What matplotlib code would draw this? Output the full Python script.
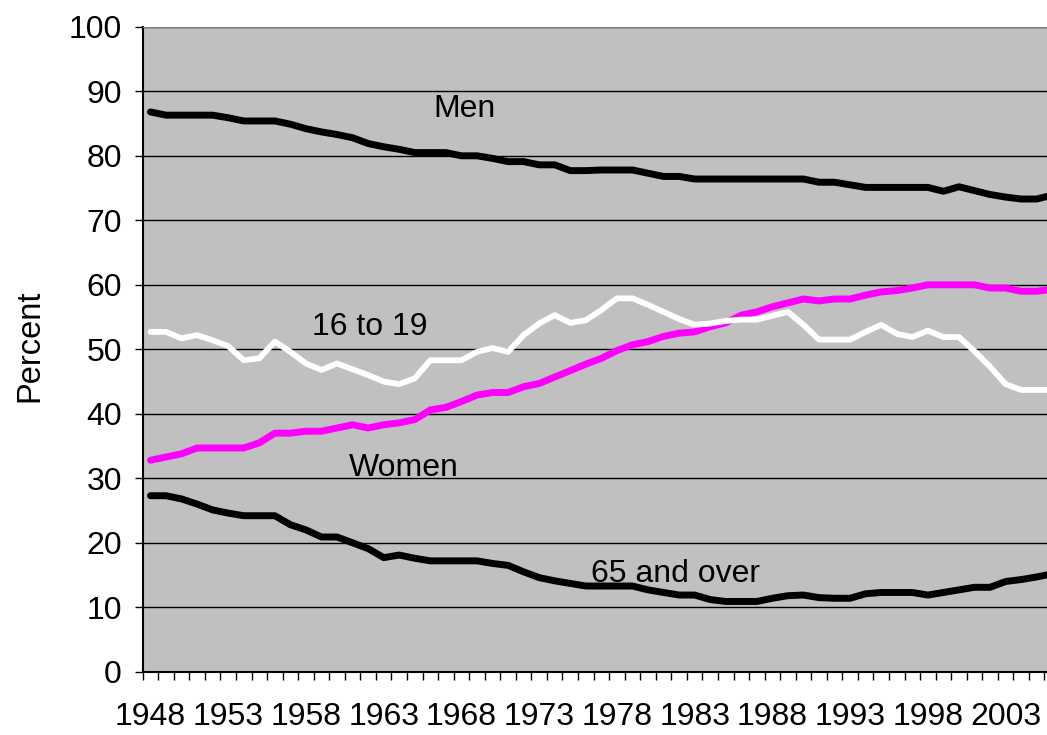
import numpy as np
import matplotlib
matplotlib.use("Agg")
from matplotlib import pyplot as plt
from matplotlib.ticker import FixedLocator, NullFormatter

plt.rcParams['font.family'] = ['Liberation Sans', 'DejaVu Sans']

# Labor force participation rates, 1948-2006 (percent)
years = list(range(1948, 2007))

men = [86.8, 86.3, 86.3, 86.3, 86.3, 85.9, 85.4, 85.4, 85.4, 84.9,
       84.2, 83.7, 83.3, 82.8, 81.9, 81.4, 81.0, 80.5, 80.5, 80.5,
       80.0, 80.0, 79.6, 79.1, 79.1, 78.6, 78.6, 77.7, 77.7, 77.8,
       77.8, 77.8, 77.3, 76.8, 76.8, 76.4, 76.4, 76.4, 76.4, 76.4,
       76.4, 76.4, 76.4, 75.9, 75.9, 75.5, 75.1, 75.1, 75.1, 75.1,
       75.1, 74.5, 75.2, 74.6, 74.0, 73.6, 73.3, 73.3, 73.9]

women = [32.8, 33.3, 33.8, 34.7, 34.7, 34.7, 34.7, 35.5, 37.0, 37.0,
         37.3, 37.3, 37.8, 38.3, 37.8, 38.3, 38.6, 39.1, 40.6, 41.0,
         41.9, 42.9, 43.3, 43.3, 44.2, 44.7, 45.7, 46.7, 47.7, 48.6,
         49.8, 50.7, 51.2, 52.0, 52.5, 52.7, 53.5, 54.1, 55.3, 55.8,
         56.6, 57.2, 57.8, 57.5, 57.8, 57.8, 58.4, 58.9, 59.1, 59.5,
         60.0, 60.0, 60.0, 60.0, 59.5, 59.5, 59.0, 59.0, 59.3]

teens = [52.7, 52.7, 51.7, 52.2, 51.4, 50.5, 48.3, 48.6, 51.2, 49.6,
         47.8, 46.8, 47.8, 46.9, 46.0, 45.0, 44.6, 45.5, 48.3, 48.3,
         48.3, 49.6, 50.2, 49.6, 52.2, 54.0, 55.3, 54.1, 54.5, 56.1,
         57.9, 57.9, 56.9, 55.8, 54.7, 53.8, 54.0, 54.4, 54.6, 54.6,
         55.2, 55.8, 53.8, 51.5, 51.5, 51.5, 52.7, 53.8, 52.4, 51.9,
         52.9, 51.9, 51.9, 49.7, 47.3, 44.6, 43.7, 43.7, 43.7]

over65 = [27.3, 27.3, 26.8, 26.0, 25.1, 24.6, 24.2, 24.2, 24.2, 22.8,
          22.0, 20.9, 20.9, 20.0, 19.1, 17.7, 18.1, 17.6, 17.2, 17.2,
          17.2, 17.2, 16.8, 16.5, 15.5, 14.6, 14.1, 13.7, 13.3, 13.3,
          13.3, 13.3, 12.7, 12.3, 11.9, 11.9, 11.2, 10.9, 10.9, 10.9,
          11.4, 11.8, 11.9, 11.5, 11.4, 11.4, 12.1, 12.3, 12.3, 12.3,
          11.9, 12.3, 12.7, 13.1, 13.1, 14.0, 14.3, 14.7, 15.2]

year_labels = [str(y) for y in range(1948, 2007, 5)]

fig = plt.figure(figsize=(10.47, 7.35), dpi=100)
# plot area runs past the right edge of the picture, as in the original
ax = fig.add_axes([142.7 / 1047, 63.2 / 735, (1060 - 142.7) / 1047, 645 / 735])
ax.set_facecolor('#C0C0C0')

x = np.arange(len(years))
style = dict(solid_capstyle='round', solid_joinstyle='round', zorder=3)
ax.plot(x, men, color='black', lw=5.0, **style)
ax.plot(x, women, color='#FF00FF', lw=5.0, **style)
ax.plot(x, teens, color='white', lw=4.2, **style)
ax.plot(x, over65, color='black', lw=5.0, **style)

ax.set_xlim(-0.5, len(years) - 0.5)
ax.set_ylim(0, 100)

ax.set_yticks(np.arange(0, 101, 10))
ax.yaxis.grid(True, color='black', lw=1.0)
ax.set_axisbelow(True)

label_pos = [years.index(int(s)) for s in year_labels]
ax.set_xticks(label_pos)
ax.set_xticklabels(year_labels)
ax.xaxis.set_minor_locator(FixedLocator(np.arange(-0.5, len(years), 1.0)))
ax.xaxis.set_minor_formatter(NullFormatter())
ax.tick_params(axis='x', which='major', length=0, pad=22, labelsize=23)
ax.tick_params(axis='x', which='minor', length=6, width=1, direction='out', color='black')
ax.tick_params(axis='y', length=6, width=1, direction='out', pad=9, labelsize=23)

for s in ['top', 'right']:
    ax.spines[s].set_color('#808080')
for s in ['left', 'bottom']:
    ax.spines[s].set_color('black')
    ax.spines[s].set_linewidth(1.5)

ax.set_ylabel('Percent', fontsize=23.5)
ax.yaxis.set_label_coords(-0.106, 0.505)

ax.text(20.2, 86.0, 'Men', fontsize=23, ha='center', va='baseline')
ax.text(14.1, 52.2, '16 to 19', fontsize=23, ha='center', va='baseline')
ax.text(16.3, 30.4, 'Women', fontsize=23, ha='center', va='baseline')
ax.text(33.8, 14.0, '65 and over', fontsize=23, ha='center', va='baseline')

fig.savefig('out.png', dpi=100)
